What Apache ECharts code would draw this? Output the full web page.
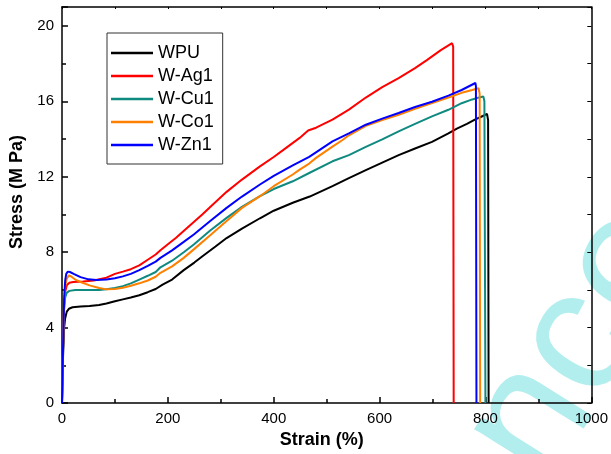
<!DOCTYPE html>
<html>
<head>
<meta charset="utf-8">
<script src="https://cdn.jsdelivr.net/npm/echarts@6/dist/echarts.min.js"></script>
<style>
  html, body { margin: 0; padding: 0; background: #fff; }
  #chart { width: 611px; height: 454px; }
</style>
</head>
<body>
<div id="chart"></div>
<script>
const names = ['WPU', 'W-Ag1', 'W-Cu1', 'W-Co1', 'W-Zn1']
const colors = ['#000000', '#ff0000', '#0f8a80', '#ff8000', '#0000ff']

const wpuStrain = [0, 2, 4, 6, 9, 13, 20, 35, 52, 70, 84, 100, 115, 130, 146, 162, 177, 190, 208, 230, 250, 266, 290, 311, 340, 374, 400, 436, 468, 511, 540, 574, 605, 636, 667, 699, 730, 746, 765, 780, 795, 803, 805, 806]
const wpuStress = [0, 2.5, 4.0, 4.5, 4.85, 5.0, 5.08, 5.12, 5.15, 5.2, 5.28, 5.4, 5.5, 5.6, 5.72, 5.88, 6.05, 6.28, 6.55, 7.05, 7.45, 7.8, 8.3, 8.75, 9.25, 9.8, 10.2, 10.62, 10.95, 11.5, 11.9, 12.35, 12.75, 13.15, 13.5, 13.85, 14.3, 14.55, 14.8, 15.03, 15.22, 15.33, 15.0, 0]

const agStrain = [0, 2, 4, 6, 9, 14, 21, 40, 60, 84, 100, 115, 130, 146, 162, 177, 186, 200, 215, 233, 249, 265, 280, 311, 340, 374, 400, 417, 449, 465, 480, 511, 542, 574, 605, 636, 667, 690, 715, 737, 739, 740]
const agStress = [0, 3.0, 5.2, 5.9, 6.25, 6.38, 6.42, 6.45, 6.5, 6.65, 6.85, 6.97, 7.1, 7.3, 7.6, 7.88, 8.1, 8.42, 8.75, 9.2, 9.6, 10.0, 10.4, 11.2, 11.85, 12.55, 13.05, 13.4, 14.06, 14.45, 14.6, 15.03, 15.56, 16.2, 16.75, 17.23, 17.76, 18.2, 18.7, 19.08, 18.9, 0]

const cuStrain = [0, 2, 4, 6, 9, 14, 25, 50, 70, 84, 100, 115, 130, 146, 162, 177, 186, 208, 230, 249, 280, 311, 340, 374, 400, 436, 467, 511, 542, 574, 605, 636, 667, 699, 730, 755, 775, 790, 796, 798, 800]
const cuStress = [0, 3.0, 5.0, 5.6, 5.85, 5.95, 6.0, 6.0, 6.0, 6.03, 6.1, 6.2, 6.35, 6.55, 6.75, 6.95, 7.2, 7.55, 8.0, 8.41, 9.15, 9.82, 10.4, 10.97, 11.35, 11.76, 12.2, 12.82, 13.15, 13.58, 13.98, 14.41, 14.8, 15.2, 15.55, 15.9, 16.1, 16.22, 16.26, 16.0, 0]

const coStrain = [0, 2, 4, 6, 9, 13, 18, 25, 35, 52, 70, 84, 100, 115, 130, 146, 162, 177, 186, 208, 230, 249, 280, 311, 340, 374, 400, 436, 449, 467, 480, 511, 530, 542, 574, 605, 636, 667, 699, 730, 755, 775, 787, 789, 790]
const coStress = [0, 3.0, 5.3, 6.2, 6.6, 6.77, 6.7, 6.55, 6.42, 6.24, 6.1, 6.03, 6.05, 6.12, 6.22, 6.35, 6.5, 6.7, 6.91, 7.25, 7.7, 8.15, 8.9, 9.65, 10.35, 10.97, 11.5, 12.12, 12.38, 12.7, 13.0, 13.6, 13.95, 14.2, 14.7, 15.0, 15.29, 15.6, 15.91, 16.2, 16.45, 16.6, 16.7, 16.4, 0]

const znStrain = [0, 2, 4, 6, 8, 11, 15, 22, 35, 50, 65, 84, 100, 115, 130, 146, 162, 177, 186, 208, 230, 249, 280, 311, 340, 374, 400, 436, 467, 511, 542, 574, 605, 636, 667, 699, 730, 755, 781, 782, 783]
const znStress = [0, 3.0, 5.5, 6.5, 6.85, 6.97, 6.95, 6.85, 6.68, 6.56, 6.52, 6.55, 6.62, 6.72, 6.85, 7.05, 7.28, 7.5, 7.7, 8.1, 8.55, 8.94, 9.65, 10.35, 10.95, 11.59, 12.05, 12.6, 13.05, 13.88, 14.3, 14.76, 15.08, 15.38, 15.7, 15.98, 16.3, 16.6, 16.97, 16.8, 0]

const strains = [wpuStrain, agStrain, cuStrain, coStrain, znStrain]
const stresses = [wpuStress, agStress, cuStress, coStress, znStress]

const font = 'Liberation Sans'
const chart = echarts.init(document.getElementById('chart'), null, { renderer: 'canvas' })

const axisLine = { show: true, onZero: false, lineStyle: { color: '#000', width: 1.5 } }

chart.setOption({
  animation: false,
  backgroundColor: '#fff',
  textStyle: { fontFamily: font, color: '#000' },
  grid: { left: 60, right: 17, top: 7, bottom: 50 },
  legend: {
    data: names,
    orient: 'vertical',
    left: 107,
    top: 33,
    padding: [11, 9, 10, 4],
    icon: 'rect',
    itemWidth: 42,
    itemHeight: 2.5,
    itemGap: 5,
    borderColor: '#333',
    borderWidth: 1,
    backgroundColor: '#fff',
    textStyle: { fontSize: 18, lineHeight: 18, height: 18, fontFamily: font, color: '#000' },
  },
  xAxis: [
    {
      type: 'value',
      position: 'bottom',
      min: 0,
      max: 1000,
      interval: 200,
      axisLine,
      axisTick: { inside: true, length: 6, lineStyle: { color: '#000', width: 1.5 } },
      minorTick: { show: true, splitNumber: 2, length: 4, lineStyle: { color: '#000', width: 1.5 } },
      axisLabel: { fontSize: 15, margin: 8, color: '#000', fontFamily: font, formatter: v => String(v) },
      splitLine: { show: false },
      name: 'Strain (%)',
      nameLocation: 'middle',
      nameGap: 27,
      nameTextStyle: { fontSize: 18, fontWeight: 'bold', color: '#000', fontFamily: font, padding: [0, 10, 0, 0] },
    },
    {
      type: 'value',
      position: 'top',
      min: 0,
      max: 1000,
      interval: 100,
      axisLine,
      axisTick: { inside: true, length: 2, lineStyle: { color: '#000' } },
      axisLabel: { show: false },
      splitLine: { show: false },
    },
  ],
  yAxis: [
    {
      type: 'value',
      position: 'left',
      min: 0,
      max: 21,
      interval: 4,
      axisLine,
      axisTick: { inside: true, length: 6, lineStyle: { color: '#000', width: 1.5 } },
      minorTick: { show: true, splitNumber: 2, length: 4, lineStyle: { color: '#000', width: 1.5 } },
      axisLabel: {
        fontSize: 15, margin: 8, color: '#000', fontFamily: font,
        formatter: v => (v % 4 === 0 ? String(v) : ''),
      },
      splitLine: { show: false },
      name: 'Stress (M Pa)',
      nameLocation: 'middle',
      nameGap: 36,
      nameTextStyle: { fontSize: 18, fontWeight: 'bold', color: '#000', fontFamily: font, padding: [0, 0, 0, 26] },
    },
    {
      type: 'value',
      position: 'right',
      min: 0,
      max: 21,
      interval: 2,
      axisLine,
      axisTick: { inside: true, length: 4, lineStyle: { color: '#000' } },
      axisLabel: { show: false },
      splitLine: { show: false },
    },
  ],
  graphic: [
    {
      // watermark in the bottom-right corner
      type: 'text',
      x: 580,
      y: 343,
      rotation: 58 * Math.PI / 180,
      z: -10,
      silent: true,
      style: {
        text: 'nce',
        fontSize: 175,
        fontFamily: font,
        fill: '#b2eeee',
        textAlign: 'center',
        textVerticalAlign: 'middle',
      },
    },
  ],
  series: names.map((name, i) => ({
    name,
    type: 'line',
    xAxisIndex: 0,
    yAxisIndex: 0,
    symbol: 'none',
    showSymbol: false,
    color: colors[i],
    lineStyle: { color: colors[i], width: 2 },
    data: strains[i].map((x, j) => [x, stresses[i][j]]),
    z: 2 + i,
  })),
})
</script>
</body>
</html>
